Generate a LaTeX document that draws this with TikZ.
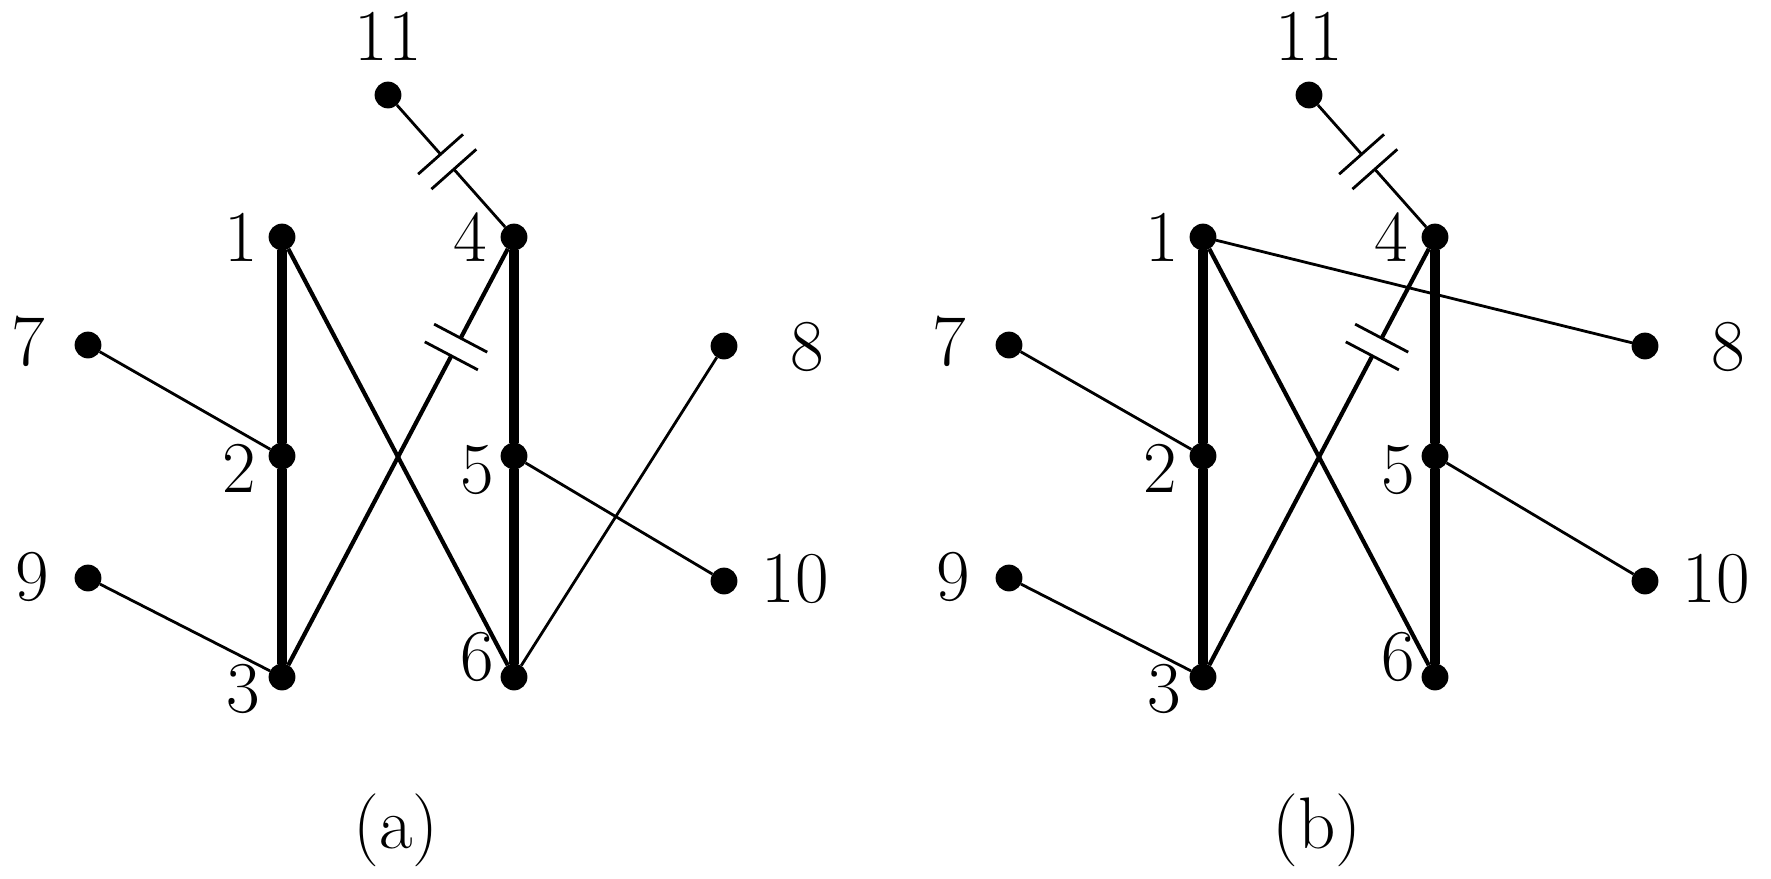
\documentclass[tikz,border=0pt]{standalone}
\usetikzlibrary{calc}
\tikzset{
  dot/.style={circle,fill=black,inner sep=0pt,outer sep=0pt,minimum size=13.4pt},
  lab/.style={anchor=base,inner sep=0pt,font=\fontsize{36.5pt}{40pt}\selectfont},
  thinl/.style={line width=1.4pt},
  medl/.style={line width=2.1pt},
  thickl/.style={line width=4.8pt},
  plate/.style={line width=1.4pt},
}
% capacitor on edge #1 -- #2 at position #3, line style #4, coordinate prefix #5
\newcommand\capedge[5]{%
  \coordinate (#5m) at ($(#1)!#3!(#2)$);
  \coordinate (#5p) at ($(#5m)!5pt!(#1)$);
  \coordinate (#5q) at ($(#5m)!5pt!(#2)$);
  \draw[#4] (#1) -- (#5p);
  \draw[#4] (#5q) -- (#2);
  \draw[plate] ($(#5p)!15pt!90:(#1)$) -- ($(#5p)!15pt!-90:(#1)$);
  \draw[plate] ($(#5q)!15pt!90:(#2)$) -- ($(#5q)!15pt!-90:(#2)$);
}
\newcommand\panelnodes[2]{%
  \begin{scope}[xshift=#2*0.5pt]
    \node[dot] (#1n1) at (282,237) {};
    \node[dot] (#1n2) at (282,456) {};
    \node[dot] (#1n3) at (282,677) {};
    \node[dot] (#1n4) at (514,237) {};
    \node[dot] (#1n5) at (514,456) {};
    \node[dot] (#1n6) at (514,677) {};
    \node[dot] (#1n7) at (88,345) {};
    \node[dot] (#1n8) at (724,346) {};
    \node[dot] (#1n9) at (88,578) {};
    \node[dot] (#1n10) at (724,581) {};
    \node[dot] (#1n11) at (388,95) {};
    \node[lab] (#1l11) at (388,60) {11};
    \node[lab] (#1l1) at (241,261) {1};
    \node[lab] (#1l4) at (470,261) {4};
    \node[lab] (#1l7) at (28,365) {7};
    \node[lab] (#1l2) at (239,492) {2};
    \node[lab] (#1l5) at (477,493) {5};
    \node[lab] (#1l9) at (32,600) {9};
    \node[lab] (#1l3) at (243,712) {3};
    \node[lab] (#1l6) at (477,680) {6};
    \node[lab] (#1l8) at (807,370) {8};
    \node[lab] (#1l10) at (795,602) {10};
    \node[lab] (#1cap) at (396,848) {(#1)};
  \end{scope}
  \draw[thickl] (#1n1) -- (#1n2) -- (#1n3);
  \draw[thickl] (#1n4) -- (#1n5) -- (#1n6);
  \draw[medl] (#1n1) -- (#1n6);
  \draw[thinl] (#1n7) -- (#1n2);
  \draw[thinl] (#1n9) -- (#1n3);
  \draw[thinl] (#1n5) -- (#1n10);
  \capedge{#1n11}{#1n4}{0.47}{thinl}{#1ca}
  \capedge{#1n4}{#1n3}{0.25}{medl}{#1cb}
}
\begin{document}
\begin{tikzpicture}[x=0.5pt,y=-0.5pt]
  \useasboundingbox (0,0) rectangle (1771,878);
  \panelnodes{a}{0}
  \draw[thinl] (an6) -- (an8);
  \panelnodes{b}{921}
  \draw[thinl] (bn1) -- (bn8);
\end{tikzpicture}
\end{document}
